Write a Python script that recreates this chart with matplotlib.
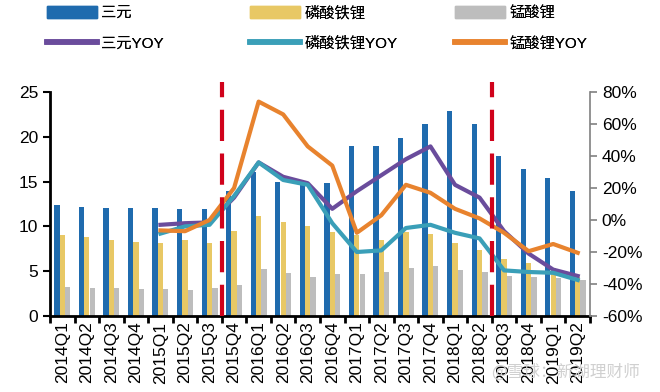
import numpy as np
import matplotlib
matplotlib.use('Agg')
import matplotlib.pyplot as plt
from matplotlib.patches import Patch
from matplotlib.lines import Line2D

plt.rcParams['font.family'] = ['Liberation Sans', 'Noto Sans CJK SC', 'DejaVu Sans']

# data
quarters = ['2014Q1', '2014Q2', '2014Q3', '2014Q4', '2015Q1', '2015Q2', '2015Q3', '2015Q4',
            '2016Q1', '2016Q2', '2016Q3', '2016Q4', '2017Q1', '2017Q2', '2017Q3', '2017Q4',
            '2018Q1', '2018Q2', '2018Q3', '2018Q4', '2019Q1', '2019Q2']
ncm = [12.4, 12.2, 12.1, 12.0, 12.0, 11.9, 11.9, 14.0, 16.1, 14.9, 14.8, 14.8,
       19.0, 19.0, 19.9, 21.4, 22.9, 21.4, 17.9, 16.4, 15.4, 14.0]
lfp = [9.0, 8.8, 8.5, 8.3, 8.2, 8.5, 8.2, 9.5, 11.2, 10.5, 10.0, 9.4,
       9.0, 8.5, 9.4, 9.2, 8.2, 7.4, 6.4, 5.9, 5.4, 4.4]
lmo = [3.2, 3.1, 3.1, 3.0, 3.0, 2.9, 3.1, 3.5, 5.2, 4.8, 4.4, 4.7,
       4.7, 4.9, 5.4, 5.6, 5.1, 4.9, 4.5, 4.3, 4.2, 4.0]
# YOY (%), from 2015Q1 onward
ncm_yoy = [-3, -2, -1.5, 14, 36, 27, 23, 7, 18, 28, 38, 46, 22, 14, -7, -21, -31, -35]
lfp_yoy = [-8.5, -4, -3, 15, 36, 25, 22, -2, -20, -19, -5, -3, -8, -11.5, -31.5, -32.5, -33, -37.5]
lmo_yoy = [-6.5, -7, 0, 20, 74, 66, 46, 34, -8, 3, 22, 17, 7, 1, -8, -19.5, -15, -20.5]
yoy_start = 4
dividers = ['2015Q3', '2018Q2']

c_ncm, c_lfp, c_lmo = '#1F6BAE', '#E8C865', '#BDBDBD'
c_ncm_y, c_lfp_y, c_lmo_y = '#6A4C9C', '#3A9FB8', '#E8832E'

fig = plt.figure(figsize=(6.6, 3.92), dpi=100)
ax = fig.add_axes([50 / 660, 1 - 316 / 392, 540 / 660, 224 / 392])
ax2 = ax.twinx()

x = np.arange(len(quarters))
w = 0.215
ax.bar(x - 0.22, ncm, w, color=c_ncm, zorder=2)
ax.bar(x, lfp, w, color=c_lfp, zorder=2)
ax.bar(x + 0.22, lmo, w, color=c_lmo, zorder=2)

xy = x[yoy_start:]
ax2.plot(xy, ncm_yoy, color=c_ncm_y, lw=3, solid_joinstyle='round', zorder=3)
ax2.plot(xy, lfp_yoy, color=c_lfp_y, lw=3, solid_joinstyle='round', zorder=4)
ax2.plot(xy, lmo_yoy, color=c_lmo_y, lw=3, solid_joinstyle='round', zorder=5)

# red dashed dividers, running a little above the plot area
for d in dividers:
    xd = quarters.index(d) + 0.5
    ax2.plot([xd, xd], [-60, 86], color='#D0021B', lw=3, dashes=(7.5, 3),
             clip_on=False, zorder=6)

ax.set_xlim(-0.5, len(quarters) - 0.5)
ax.set_ylim(0, 25)
ax.set_yticks(np.arange(0, 26, 5))
ax2.set_ylim(-60, 80)
ax2.set_yticks(np.arange(-60, 81, 20))
ax2.set_yticklabels([f'{v}%' for v in range(-60, 81, 20)])

ax.set_xticks(x)
ax.set_xticklabels(quarters, rotation=90, fontsize=12.5)
ax.set_xticks(np.arange(-0.5, len(quarters), 1), minor=True)
ax.tick_params(axis='x', which='major', length=0, pad=4)
ax.tick_params(axis='x', which='minor', length=5, width=2, color='black')
ax.tick_params(axis='y', length=5, width=1.5, labelsize=12.5, color='black')
ax2.tick_params(axis='y', length=5, width=1.2, labelsize=12.5, color='#808080')

ax.spines['top'].set_visible(False)
ax2.spines['top'].set_visible(False)
ax.spines['right'].set_visible(False)
ax2.spines['left'].set_visible(False)
ax2.spines['bottom'].set_visible(False)
ax.spines['left'].set_linewidth(2)
ax.spines['bottom'].set_linewidth(2)
ax2.spines['right'].set_color('#808080')
ax2.spines['right'].set_linewidth(1.2)

# legend: three columns, each a bar entry above its YOY line entry
legend_cols = [
    (47, Patch(color=c_ncm), '三元', Line2D([], [], color=c_ncm_y, lw=4), '三元YOY'),
    (250, Patch(color=c_lfp), '磷酸铁锂', Line2D([], [], color=c_lfp_y, lw=4), '磷酸铁锂YOY'),
    (455, Patch(color=c_lmo), '锰酸锂', Line2D([], [], color=c_lmo_y, lw=4), '锰酸锂YOY'),
]
for px, h1, l1, h2, l2 in legend_cols:
    leg = fig.legend([h1, h2], [l1, l2], loc='upper left',
                     bbox_to_anchor=(px / 660, 1 - 6 / 392), borderaxespad=0, borderpad=0,
                     frameon=False, fontsize=11, handlelength=3.3, handleheight=0.8,
                     handletextpad=0.25, labelspacing=1.05)
    fig.add_artist(leg)

fig.text(0.97, 0.05, '@雪球：新湖理财师', ha='right', va='center', fontsize=12,
         color='#D0D0D0', family=['Noto Sans CJK SC', 'DejaVu Sans'], zorder=0)

fig.savefig('out.png', dpi=100)
